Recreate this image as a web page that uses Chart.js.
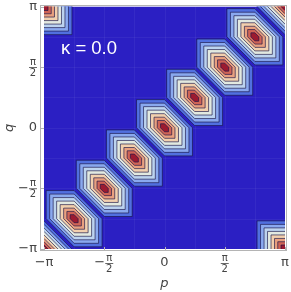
<!DOCTYPE html>
<html>
<head>
<meta charset="utf-8">
<script src="https://cdn.jsdelivr.net/npm/chart.js@4.4.0/dist/chart.umd.min.js"></script>
<style>
  html, body { margin: 0; padding: 0; background: #fff; }
  #wrap { width: 291px; height: 292px; }
</style>
</head>
<body>
<div id="wrap"><canvas id="contourChart" width="291" height="292"></canvas></div>
<script>
// --- DATA (all p, q values in units of pi) ---
const peakP = [-1, -0.75, -0.5, -0.25, 0, 0.25, 0.5, 0.75, 1, -1, 1];
const peakQ = [-1, -0.75, -0.5, -0.25, 0, 0.25, 0.5, 0.75, 1, 1, -1];
// half-size of each contour hexagon around a peak, outermost first
const contourRadii = [0.232, 0.203, 0.174, 0.145, 0.116, 0.087, 0.060, 0.033];
const tickValues = [-1, -0.5, 0, 0.5, 1];
const tickLabels = ['−π', '−π/2', '0', 'π/2', 'π'];
const kappaLabel = 'κ = 0.0';

// --- STYLE ---
const bgColor = '#2b1fc3';
const bandColors = ['#5170e0', '#8aa9ef', '#bcd3ef', '#e2e9e0', '#f2d0ae', '#e9a07f', '#d06456', '#9c1a30'];
const lineColor = 'rgba(25, 20, 70, 0.65)';
const frameColor = '#b4b4b4';
const textColor = '#444';

// unit hexagon of the triangulated mesh (long axis along p = -q)
const HEX = [[1, 0], [0, 1], [-1, 1], [-1, 0], [0, -1], [1, -1]];

const contourPlugin = {
    id: 'contours',
    beforeDatasetsDraw(chart) {
        const { ctx, scales: { x, y } } = chart;
        const X = v => x.getPixelForValue(v);
        const Y = v => y.getPixelForValue(v);
        const l = X(-1), r = X(1), t = Y(1), b = Y(-1);
        ctx.save();
        ctx.beginPath();
        ctx.rect(l, t, r - l, b - t);
        ctx.clip();
        ctx.fillStyle = bgColor;
        ctx.fillRect(l, t, r - l, b - t);

        // faint mesh seams
        ctx.strokeStyle = 'rgba(255,255,255,0.05)';
        ctx.lineWidth = 1;
        for (let v = -0.75; v < 1; v += 0.25) {
            ctx.beginPath();
            ctx.moveTo(Math.round(X(v)) + 0.5, t); ctx.lineTo(Math.round(X(v)) + 0.5, b);
            ctx.moveTo(l, Math.round(Y(v)) + 0.5); ctx.lineTo(r, Math.round(Y(v)) + 0.5);
            ctx.stroke();
        }

        for (let i = 0; i < peakP.length; i++) {
            contourRadii.forEach((s, k) => {
                ctx.beginPath();
                HEX.forEach(([dp, dq], j) => {
                    const px = X(peakP[i] + dp * s), py = Y(peakQ[i] + dq * s);
                    if (j === 0) ctx.moveTo(px, py); else ctx.lineTo(px, py);
                });
                ctx.closePath();
                ctx.fillStyle = bandColors[k];
                ctx.fill();
                ctx.strokeStyle = lineColor;
                ctx.lineWidth = 1;
                ctx.stroke();
            });
        }
        ctx.restore();
    }
};

function drawLabel(ctx, text, cx, cy, align) {
    // text like '−π/2' is drawn as a stacked fraction
    const neg = text.startsWith('−');
    const body = neg ? text.slice(1) : text;
    ctx.textBaseline = 'middle';
    if (body.includes('/')) {
        const [num, den] = body.split('/');
        const fw = 8;
        const minusW = neg ? 10 : 0;
        const total = fw + minusW;
        let left = align === 'right' ? cx - total : cx - total / 2;
        if (neg) {
            ctx.font = '13px "DejaVu Sans", sans-serif';
            ctx.textAlign = 'left';
            ctx.fillText('−', left - 1, cy);
        }
        const fx = left + minusW + fw / 2;
        ctx.font = '10px "DejaVu Sans", sans-serif';
        ctx.textAlign = 'center';
        ctx.fillText(num, fx, cy - 5);
        ctx.fillText(den, fx, cy + 6);
        ctx.fillRect(fx - 4, cy, 8, 0.8);
    } else {
        ctx.font = '13px "DejaVu Sans", sans-serif';
        ctx.textAlign = align;
        ctx.fillText(text, cx, cy);
    }
}

const framePlugin = {
    id: 'frame',
    afterDraw(chart) {
        const { ctx, chartArea: a, scales: { x, y } } = chart;
        ctx.save();
        ctx.strokeStyle = frameColor;
        ctx.lineWidth = 1;
        ctx.strokeRect(a.left + 0.5, a.top + 0.5, a.right - a.left - 1, a.bottom - a.top - 1);
        ctx.beginPath();
        tickValues.forEach(v => {
            const px = Math.round(x.getPixelForValue(v)) + 0.5;
            ctx.moveTo(px, a.bottom); ctx.lineTo(px, a.bottom - 4);
            const py = Math.round(y.getPixelForValue(v)) + 0.5;
            ctx.moveTo(a.left, py); ctx.lineTo(a.left + 4, py);
        });
        ctx.stroke();

        ctx.fillStyle = textColor;
        tickValues.forEach((v, i) => {
            drawLabel(ctx, tickLabels[i], x.getPixelForValue(v), 263, 'center');
            drawLabel(ctx, tickLabels[i], 37, y.getPixelForValue(v), 'right');
        });

        // axis titles
        ctx.font = 'italic 13px "DejaVu Sans", sans-serif';
        ctx.textAlign = 'center';
        ctx.textBaseline = 'alphabetic';
        ctx.fillText('p', x.getPixelForValue(0), 287);
        ctx.save();
        ctx.translate(13, y.getPixelForValue(0));
        ctx.rotate(-Math.PI / 2);
        ctx.fillText('q', 0, 0);
        ctx.restore();

        // kappa annotation
        ctx.fillStyle = '#ffffff';
        ctx.font = '18.5px "Liberation Sans", sans-serif';
        ctx.textAlign = 'left';
        ctx.textBaseline = 'middle';
        ctx.fillText(kappaLabel, 61, 49);
        ctx.restore();
    }
};

const ctx = document.getElementById('contourChart').getContext('2d');
const contourChart = new Chart(ctx, {
    type: 'scatter',
    data: {
        datasets: [{
            label: 'peaks',
            data: peakP.map((p, i) => ({ x: p, y: peakQ[i] })),
            pointRadius: 0
        }]
    },
    options: {
        responsive: false,
        animation: false,
        devicePixelRatio: 1,
        layout: { padding: { left: 40, top: 5, right: 4, bottom: 41 } },
        plugins: { legend: { display: false }, tooltip: { enabled: false } },
        scales: {
            x: { type: 'linear', display: false, min: -1.0332, max: 1.0166 },
            y: { type: 'linear', display: false, min: -1.0165, max: 1.0124 }
        }
    },
    plugins: [contourPlugin, framePlugin]
});
</script>
</body>
</html>
